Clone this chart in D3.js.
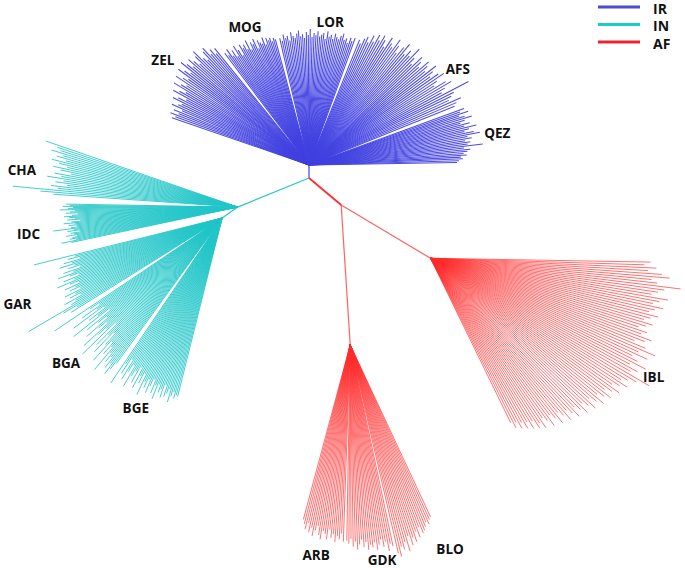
<!DOCTYPE html>
<html><head><meta charset="utf-8">
<script src="https://cdn.jsdelivr.net/npm/d3@7"></script>
<style>html,body{margin:0;padding:0;background:#fff;}svg{display:block;}</style>
</head><body>
<svg id="chart" width="685" height="568"></svg>
<script>
// ---------------- DATA ----------------
const groups = ["IR", "IN", "AF"];
const breeds = ["ZEL","MOG","LOR","AFS","QEZ","CHA","IDC","GAR","BGA","BGE","IBL","ARB","GDK","BLO"];
const breedGroup = ["IR","IR","IR","IR","IR","IN","IN","IN","IN","IN","AF","AF","AF","AF"];
const breedNode  = ["IR","IR","IR","IR","IR","IN","IN","INlow","INlow","INlow","IBLnode","SAnode","SAnode","SAnode"];
// internal branches: [parent, child, length]
const internalEdges = [["root","IR",13],["root","IN",77],["root","AF",42],["IN","INlow",19],["AF","IBLnode",104],["AF","SAnode",140]];
// terminal branch lengths (per breed)
const ZEL = [145,142,148,140,146,138,150,144,141,152,147,139,155,149,143,158,151,146,160,153,148,162,156,150,164,158,152,160,155,149,157,162,150,146,155,158,148,152,145,150];
const MOG = [140,136,142,133,138,130,141,135,128,139,134,137,131,140,129,136,133,138,127,135,132,130,136,128,134,131,133,129,132,130];
const LOR = [130,127,133,129,131,126,134,130,128,132,135,129,131,127,133,130,136,128,132,130,134,129,131,133,127,135,130,132,128,134,131,129,133,136,130,132,128,134,131,135];
const AFS = [135,132,138,141,136,145,139,148,143,150,146,140,152,147,144,155,149,142,151,157,146,153,148,160,150,144,156,152,147,158,154,149,161,155,150,158,163,153,148,160,165,156,151,180,162,158,154,166,160,157];
const QEZ = [165,160,168,158,163,170,162,157,166,160,172,164,159,168,174,161,165,158,163,160,175,156,162,159,155,158,152,154,150,148];
const CHA = [203,190,186,195,182,188,178,192,184,175,189,181,170,186,179,193,176,184,172,188,181,226,198,185];
const IDC = [172,168,175,165,170,178,163,168,172,160,166,174,169,163,171,158,167,175,164,170,162,168,186,165,172,160,169,166,174,163,168,171,165,180,170];
const GAR = [194,152,160,148,165,157,170,155,162,150,168,158,175,163,154,171,160,179,166,157,173,162,169,158,176,165,172,161,180,168,174,224,185,170,178];
const BGA = [202,160,150,172,155,185,148,168,158,190,145,175,162,152,180,165,156,188,170,160,195,150,178,163,185,158,172,192,166,180,170,198,175,185,178,190,183,195,188,180];
const BGE = [199,175,185,168,190,180,172,195,182,176,188,170,192,178,185,174,196,181,187,177,191,183,175,189,180,194,178,186,182,190,176,188,184,179,192,185,181,187,183,184];
const IBL = [220,214,226,218,232,240,222,228,252,236,230,224,241,233,227,238,230,225,235,228,222,232,226,219,229,224,236,230,220,233,245,228,239,224,231,242,226,236,230,253,240,232,226,235,228,221,232,225,218,228,222,215,226,219,212,223,216,210,220,213,207,217,210,204,214,206,200,211,203,197,208,200,195,205,198,202,192,199,190,196,188,193,185,190,183];
const ARB = [181,185,190,183,192,187,195,189,184,193,197,188,191,196,186,194,190,198,192,195,189,197];
const GDK = [196,199,194,202,197,205,200,195,203,198,206,201,204,199,207,202,197,205,200,210,203,206];
const BLO = [214,218,208,212,205,215,200,210,203,208,198,205,195,202,200,197,193,196,192,190];
const leafLengths = {ZEL,MOG,LOR,AFS,QEZ,CHA,IDC,GAR,BGA,BGE,IBL,ARB,GDK,BLO};

// ---------------- LAYOUT / STYLE ----------------
const rootPos = [309,178];
const edgeAngle = {IR:-90, IN:157.8, AF:40, INlow:145, IBLnode:30.8, SAnode:86.3};
const breedSpan = {
  ZEL:[-161,-129], MOG:[-127,-105], LOR:[-103,-70], AFS:[-68,-22], QEZ:[-20,-1],
  CHA:[-161,-176], IDC:[181,168], GAR:[166,148], BGA:[146,126], BGE:[124,104],
  IBL:[1,64], ARB:[105,92], GDK:[91,78], BLO:[77,65]
};
const labelPolar = {
  ZEL:[-144.3,180], MOG:[-114.9,152], LOR:[-81.6,145], AFS:[-32.8,177], QEZ:[-9.7,191],
  CHA:[-170.3,219], IDC:[172.6,211], GAR:[157.2,222], BGA:[137.1,213], BGE:[114.4,209],
  IBL:[28.1,253], ARB:[99.2,213], GDK:[81.6,218], BLO:[63.9,227]
};
const color = d3.scaleOrdinal().domain(groups).range(["#4242e2","#22c6c8","#ff2e2e"]);
const legendColor = d3.scaleOrdinal().domain(groups).range(["#4b4bd6","#19cccc","#ec2430"]);
const edgeGroup = {IR:"IR", IN:"IN", INlow:"IN", AF:"AF", IBLnode:"AF", SAnode:"AF"};
const leafWidth = {IR:1.05, IN:0.9, AF:0.85};

const r = d3.scaleLinear().domain([0,100]).range([0,100]);
const rad = d => d*Math.PI/180;
const svg = d3.select("#chart");

// compute internal node positions
const pos = {root: rootPos};
internalEdges.forEach(([p,c,len]) => {
  const a = rad(edgeAngle[c]);
  pos[c] = [pos[p][0] + r(len)*Math.cos(a), pos[p][1] + r(len)*Math.sin(a)];
});

// leaves
const gLeaves = svg.append("g");
breeds.forEach((b,i) => {
  const lens = leafLengths[b];
  const ang = d3.scaleLinear().domain([0, lens.length-1]).range(breedSpan[b]);
  const hub = pos[breedNode[i]];
  const grp = breedGroup[i];
  gLeaves.selectAll(null).data(lens).join("line")
    .attr("x1", hub[0]).attr("y1", hub[1])
    .attr("x2", (d,j) => hub[0] + r(d)*Math.cos(rad(ang(j))))
    .attr("y2", (d,j) => hub[1] + r(d)*Math.sin(rad(ang(j))))
    .attr("stroke", color(grp))
    .attr("stroke-width", leafWidth[grp])
    .attr("stroke-opacity", grp==="AF" ? 0.8 : 0.95);
});

// internal edges
svg.append("g").selectAll("line").data(internalEdges).join("line")
  .attr("x1", d => pos[d[0]][0]).attr("y1", d => pos[d[0]][1])
  .attr("x2", d => pos[d[1]][0]).attr("y2", d => pos[d[1]][1])
  .attr("stroke", d => color(edgeGroup[d[1]]))
  .attr("stroke-width", d => d[1]==="AF" ? 1.8 : 1.2)
  .attr("stroke-opacity", d => (d[1]==="IBLnode"||d[1]==="SAnode") ? 0.75 : 1);

// labels
svg.append("g").selectAll("text").data(breeds).join("text")
  .attr("x", (b,i) => pos[breedNode[i]][0] + labelPolar[b][1]*Math.cos(rad(labelPolar[b][0])))
  .attr("y", (b,i) => pos[breedNode[i]][1] + labelPolar[b][1]*Math.sin(rad(labelPolar[b][0])))
  .attr("text-anchor","middle").attr("dominant-baseline","central")
  .attr("font-family","'Open Sans', 'DejaVu Sans', sans-serif")
  .attr("font-weight",700).attr("font-size",13.5).attr("fill","#111")
  .text(b => b);

// legend
const lg = svg.append("g");
const ly = d3.scalePoint().domain(groups).range([8,43]);
lg.selectAll("line").data(groups).join("line")
  .attr("x1",598).attr("x2",640)
  .attr("y1", d => ly(d)-1).attr("y2", d => ly(d)-1)
  .attr("stroke", d => legendColor(d)).attr("stroke-width",3);
lg.selectAll("text").data(groups).join("text")
  .attr("x",653).attr("y", d => ly(d))
  .attr("dominant-baseline","central")
  .attr("font-family","'Open Sans', 'DejaVu Sans', sans-serif")
  .attr("font-weight",700).attr("font-size",14).attr("fill","#111")
  .text(d => d);
</script>
</body></html>
